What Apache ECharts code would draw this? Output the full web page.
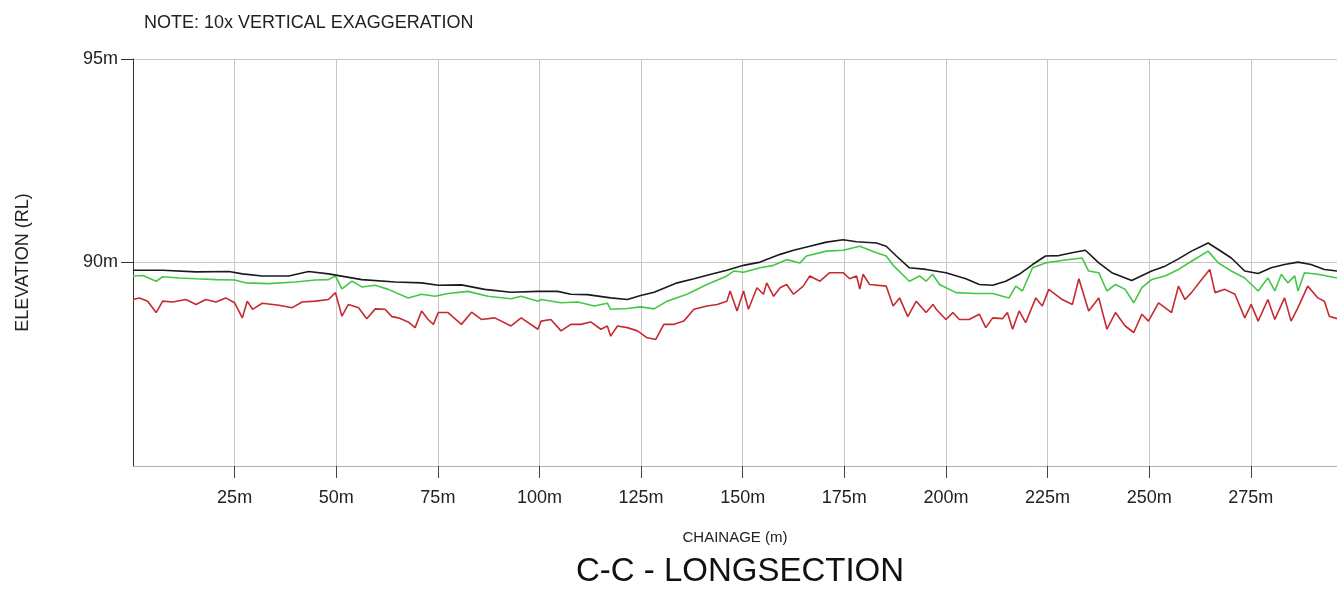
<!DOCTYPE html>
<html>
<head>
<meta charset="utf-8">
<script src="https://cdn.jsdelivr.net/npm/echarts@6/dist/echarts.min.js"></script>
<style>
html,body{margin:0;padding:0;background:#fff;}
#chart{width:1337px;height:592px;}
</style>
</head>
<body>
<div id="chart"></div>
<script>
// Chainage (m) and elevation (m)
const groundChainage = [0,7.3,15.5,23.6,26.9,31.8,38.3,43.2,48.1,56.3,64.5,71.0,75.1,80.8,86.5,93.0,99.6,104.5,107.7,111.8,117.5,121.6,124.9,128.2,133.9,138.0,142.9,146.1,150.2,154.3,159.2,162.5,166.5,170.6,174.7,178.0,182.9,185.3,187.8,191.0,195.1,200.0,204.9,208.2,211.5,214.7,218.0,221.3,224.5,227.8,231.0,234.3,237.6,240.8,245.7,250.6,253.9,257.2,260.4,264.5,267.0,270.2,273.5,276.8,280.0,283.3,286.6,289.8,293.1,296.2];
const groundElev = [89.81,89.81,89.77,89.78,89.72,89.67,89.67,89.78,89.72,89.58,89.52,89.50,89.44,89.45,89.34,89.27,89.29,89.29,89.22,89.21,89.13,89.09,89.19,89.27,89.50,89.60,89.73,89.81,89.93,90.01,90.20,90.30,90.40,90.50,90.56,90.51,90.48,90.40,90.16,89.87,89.83,89.75,89.60,89.46,89.44,89.54,89.71,89.95,90.16,90.17,90.24,90.30,89.99,89.75,89.56,89.79,89.91,90.09,90.28,90.48,90.32,90.11,89.79,89.73,89.87,89.95,90.01,89.95,89.83,89.79];

const greenChainage = [0,2.4,5.7,7.3,11.4,15.5,20.4,25.0,27.7,33.4,40.0,44.9,48.1,49.8,51.4,53.9,56.3,59.6,62.8,67.7,71.0,74.3,77.5,82.4,87.3,93.0,95.5,99.6,100.4,105.3,109.4,113.5,116.7,117.5,121.6,124.9,128.2,131.4,136.3,141.2,146.1,147.8,150.2,154.3,157.6,160.8,164.1,165.7,170.6,174.7,178.8,182.9,185.3,187.0,191.0,193.5,195.1,196.7,198.4,202.5,207.4,211.5,215.5,217.2,218.8,221.3,224.5,229.4,233.5,235.1,237.6,239.6,241.7,244.1,246.2,248.2,250.6,253.9,257.2,260.4,264.5,267.0,270.2,273.5,276.8,279.2,280.9,282.5,284.1,285.8,286.6,288.2,291.5,296.2];
const greenElev = [89.67,89.68,89.54,89.65,89.62,89.60,89.58,89.57,89.50,89.48,89.52,89.57,89.58,89.67,89.35,89.54,89.40,89.44,89.34,89.13,89.22,89.17,89.24,89.29,89.17,89.11,89.17,89.05,89.09,89.01,89.03,88.93,89.00,88.85,88.87,88.91,88.86,89.05,89.22,89.46,89.67,89.79,89.76,89.87,89.93,90.07,89.99,90.16,90.28,90.30,90.40,90.24,90.16,89.93,89.54,89.67,89.54,89.71,89.46,89.26,89.24,89.24,89.13,89.42,89.30,89.87,89.99,90.06,90.11,89.79,89.75,89.30,89.46,89.34,89.01,89.38,89.58,89.67,89.83,90.03,90.28,89.99,89.79,89.62,89.30,89.62,89.30,89.71,89.50,89.67,89.30,89.75,89.71,89.62];

const redChainage = [0,1.6,3.6,5.7,7.3,9.8,13.0,15.5,17.9,20.4,22.8,25.0,26.9,28.1,29.4,31.8,35.9,39.2,41.6,44.9,48.1,49.8,51.4,53.0,55.5,57.5,59.6,62.0,63.7,65.3,67.7,69.4,71.0,72.6,73.9,75.1,77.5,80.8,83.3,85.7,89.0,93.0,95.5,99.6,100.4,102.8,105.3,107.7,110.2,112.6,115.1,116.7,117.5,119.2,121.6,124.1,126.5,128.6,130.6,133.1,135.5,138.0,141.2,143.7,146.1,146.9,148.6,150.2,151.4,153.5,155.1,155.9,157.6,159.2,160.8,162.5,164.9,166.5,169.0,171.4,174.7,176.3,178.0,178.8,179.6,181.2,185.3,187.0,188.6,190.6,192.7,195.1,196.8,197.6,200.0,201.7,203.3,205.7,208.2,209.8,211.5,213.9,215.1,216.4,218.0,219.6,222.1,223.7,225.3,228.6,231.1,232.7,235.1,237.6,239.6,241.7,244.1,246.2,248.2,249.8,252.3,255.5,257.2,258.8,260.4,262.9,264.9,266.2,268.6,271.1,273.5,275.1,276.8,279.2,280.9,283.3,284.9,286.6,289.0,291.5,293.1,294.3,296.2];
const redElev = [89.09,89.13,89.05,88.77,89.05,89.03,89.09,88.97,89.09,89.03,89.13,89.01,88.64,89.05,88.85,89.00,88.95,88.89,89.03,89.05,89.09,89.26,88.68,88.97,88.89,88.62,88.86,88.85,88.67,88.64,88.54,88.40,88.81,88.60,88.48,88.77,88.77,88.48,88.78,88.60,88.64,88.44,88.64,88.36,88.56,88.60,88.32,88.48,88.48,88.54,88.36,88.44,88.19,88.44,88.40,88.32,88.15,88.11,88.48,88.48,88.56,88.85,88.93,88.97,89.05,89.30,88.81,89.30,88.85,89.38,89.22,89.50,89.17,89.38,89.46,89.22,89.42,89.67,89.54,89.75,89.75,89.60,89.67,89.35,89.71,89.46,89.42,88.93,89.13,88.67,89.05,88.77,88.97,88.85,88.60,88.77,88.60,88.60,88.73,88.40,88.64,88.62,88.77,88.36,88.81,88.52,89.13,88.93,89.34,89.09,88.97,89.60,88.81,89.13,88.36,88.77,88.44,88.28,88.73,88.56,89.01,88.77,89.42,89.09,89.26,89.58,89.83,89.26,89.34,89.22,88.64,88.97,88.56,89.09,88.60,89.13,88.56,88.89,89.42,89.13,89.05,88.68,88.62];

const xTicks = [25,50,75,100,125,150,175,200,225,250,275];
const yTicks = [90,95];
const noteText = 'NOTE: 10x VERTICAL EXAGGERATION';
const xTitle = 'CHAINAGE (m)';
const yTitle = 'ELEVATION (RL)';
const mainTitle = 'C-C - LONGSECTION';

const zip = (xs, ys) => xs.map((x, i) => [x, ys[i]]);
const FONT = "'Liberation Sans', Arial, sans-serif";

const chart = echarts.init(document.getElementById('chart'), null, {renderer: 'canvas'});
chart.setOption({
  animation: false,
  backgroundColor: '#ffffff',
  title: [
    {text: noteText, left: 139, top: 9,
     textStyle: {fontFamily: FONT, fontSize: 18, fontWeight: 'normal', color: '#222'}},
    {text: mainTitle, left: 735, top: 550, textAlign: 'center',
     textStyle: {fontFamily: FONT, fontSize: 33, fontWeight: 'normal', color: '#111'}}
  ],
  grid: {left: 133, right: -5, top: 59, bottom: 126, containLabel: false},
  xAxis: {
    type: 'value', min: 0, max: 296.2, interval: 25,
    name: xTitle, nameLocation: 'middle', nameGap: 64,
    nameTextStyle: {fontFamily: FONT, fontSize: 15, color: '#222'},
    axisLine: {show: true, lineStyle: {color: '#b0b0b0', width: 1}},
    axisTick: {show: true, length: 12, customValues: xTicks, lineStyle: {color: '#444'}},
    axisLabel: {fontFamily: FONT, fontSize: 18, color: '#222', margin: 23,
      customValues: xTicks, formatter: v => v + 'm'},
    splitLine: {show: true, lineStyle: {color: '#c8c8c8', width: 1}}
  },
  yAxis: {
    type: 'value', min: 85, max: 95, interval: 5,
    name: yTitle, nameLocation: 'middle', nameGap: 101, nameRotate: 90,
    nameTextStyle: {fontFamily: FONT, fontSize: 18, color: '#222'},
    axisLine: {show: true, lineStyle: {color: '#333', width: 1}},
    axisTick: {show: true, length: 12, customValues: yTicks, lineStyle: {color: '#333'}},
    axisLabel: {fontFamily: FONT, fontSize: 18, color: '#222', margin: 15,
      customValues: yTicks, formatter: v => v + 'm'},
    splitLine: {show: true, lineStyle: {color: '#c8c8c8', width: 1}}
  },
  series: [
    {type: 'line', data: zip(redChainage, redElev), showSymbol: false, z: 3,
     lineStyle: {color: '#c62a2f', width: 1.6}},
    {type: 'line', data: zip(greenChainage, greenElev), showSymbol: false, z: 4,
     lineStyle: {color: '#44c844', width: 1.6}},
    {type: 'line', data: zip(groundChainage, groundElev), showSymbol: false, z: 5,
     lineStyle: {color: '#1a1a1a', width: 1.6}}
  ]
});
</script>
</body>
</html>
